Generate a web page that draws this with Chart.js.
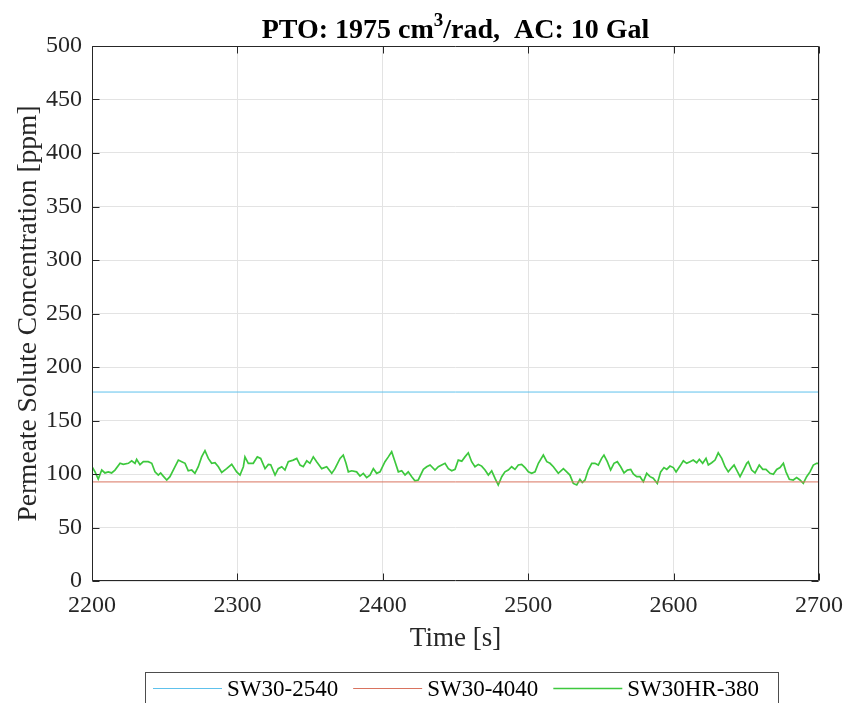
<!DOCTYPE html>
<html>
<head>
<meta charset="utf-8">
<script src="https://cdn.jsdelivr.net/npm/chart.js@4"></script>
<style>
  html, body { margin: 0; padding: 0; background: #ffffff; }
  canvas { display: block; }
</style>
</head>
<body>
<canvas id="c" width="849" height="703"></canvas>
<script>
// Axis ticks
const xTicks = [2200, 2300, 2400, 2500, 2600, 2700];
const yTicks = [0, 50, 100, 150, 200, 250, 300, 350, 400, 450, 500];

// Series labels
const seriesNames = ['SW30-2540', 'SW30-4040', 'SW30HR-380'];

// SW30-2540 and SW30-4040 hold a constant level over the window
const flatTime = [2200, 2700];
const sw2540 = [176.6, 176.6];
const sw4040 = [92.6, 92.6];

// SW30HR-380 permeate concentration [ppm] over time [s]
const hrTime = [
  2200, 2202.1, 2204.3, 2206.7, 2208.9, 2211.2, 2213.5, 2215.8, 2219.3, 2221.5,
  2225, 2227.3, 2229.6, 2230.7, 2233, 2235.3, 2238.7, 2241.1, 2243.3, 2245.6,
  2247.2, 2249, 2251.4, 2253.6, 2257.1, 2259.4, 2261.7, 2264, 2266.2, 2268.6,
  2270.8, 2273.1, 2275.4, 2277.7, 2280, 2282.3, 2284.6, 2286.9, 2289.2, 2292.6,
  2296.1, 2299.5, 2301.8, 2304.1, 2305.2, 2307.5, 2310.9, 2313.7, 2316, 2319,
  2321.3, 2322.9, 2325.9, 2328.1, 2330.5, 2332.7, 2335, 2338.4, 2340.8, 2343.1,
  2345.3, 2347.7, 2349.9, 2352.2, 2354.5, 2358, 2361.4, 2364.9, 2367.1, 2370.6,
  2372.8, 2374.7, 2376.3, 2378.6, 2382, 2384.3, 2386.6, 2388.9, 2391.2, 2393.5,
  2395.8, 2398.1, 2401.5, 2403.8, 2406.1, 2408.4, 2410.7, 2413, 2415.3, 2417.5,
  2419.9, 2422.1, 2424.4, 2427.9, 2430.2, 2432.5, 2435.9, 2438.2, 2440.5, 2442.8,
  2445.1, 2447.4, 2449.7, 2451.9, 2454.3, 2456.5, 2458.8, 2461.1, 2463.4, 2465.7,
  2468, 2470.3, 2472.6, 2474.9, 2477.2, 2479.4, 2481.8, 2484, 2486.3, 2488.6,
  2490.9, 2493.2, 2495.5, 2497.8, 2500.1, 2502.4, 2504.7, 2507, 2510.4, 2512.8,
  2515, 2517.3, 2520.7, 2524.2, 2526.5, 2528.7, 2531, 2533.4, 2535.6, 2537.2,
  2539.1, 2541.3, 2543.7, 2545.9, 2548.2, 2550.5, 2552.1, 2554.4, 2556.7, 2559,
  2561.3, 2563.6, 2565.9, 2568.2, 2570.5, 2572.3, 2574.6, 2576.9, 2579.2, 2581.5,
  2583.8, 2586, 2588.8, 2591.1, 2593.4, 2595.3, 2597.5, 2599.8, 2601.7, 2604.4,
  2606.7, 2609, 2611.3, 2613.5, 2615.9, 2617.7, 2620, 2622.3, 2623.9, 2626.2,
  2628.5, 2630.7, 2633.1, 2635.4, 2637.6, 2640, 2641.6, 2643.4, 2645.7, 2648,
  2650.3, 2651.4, 2653.7, 2656, 2658.9, 2661.3, 2663.5, 2666.3, 2668.6, 2670.9,
  2673.2, 2675.5, 2677.3, 2679.6, 2682.3, 2684.6, 2686.9, 2689.2, 2691.5, 2693.8,
  2696.1, 2698.4, 2700
];
const sw30hr380 = [
  106.8, 102, 95.3, 103.7, 101, 102, 101, 103.7, 110, 109,
  110, 112.4, 110, 113.7, 108.7, 111.5, 111.5, 110, 102, 99,
  101, 98, 94.4, 97.5, 106.8, 113, 111.5, 110, 103, 103.7,
  100.6, 106.8, 116, 121.8, 114.6, 110, 110.5, 106.8, 101.5, 105,
  109, 102, 99, 106.8, 116, 110, 110, 116, 114.6, 105,
  109, 108.7, 99, 105, 106.8, 103.7, 111.5, 113, 114.6, 108.4,
  106.8, 112.4, 110, 116, 111.5, 105, 106.8, 100.6, 105, 114.6,
  117.7, 110, 102, 103, 102, 98, 100.6, 96.6, 99, 105,
  100.6, 102, 111.5, 116, 120.8, 111.5, 102, 103, 99, 102,
  97.5, 93.7, 94.4, 104.3, 106.8, 108.4, 103.7, 106.8, 108.4, 110,
  105, 103, 104.3, 113, 112, 116, 119.8, 111.5, 106.8, 109,
  107.4, 103.7, 99, 103, 95.9, 89.7, 97.5, 102, 103.7, 106.8,
  104.3, 108.4, 109, 106, 102, 100.6, 102, 110, 117.7, 111.5,
  110, 106.8, 100.6, 105, 102, 99, 91.2, 89.7, 95, 92,
  94.4, 103.7, 110, 110, 108.4, 114.6, 117.7, 111.5, 103.7, 110,
  111.5, 106.8, 101, 103.7, 104.3, 100, 97.5, 97.5, 92.8, 100.6,
  97.5, 96, 91.2, 102, 106, 104.3, 107.4, 106, 102, 107.4,
  112.4, 110, 111.5, 113, 110.5, 113.7, 110, 114.6, 108.4, 110.5,
  113, 119.8, 114.6, 106.8, 102, 106, 108.4, 103.7, 97.5, 103.7,
  110, 111.5, 103.7, 101, 108.4, 104.3, 104.3, 100.6, 99.7, 104.3,
  106, 110, 102, 95, 94.4, 96.6, 94.4, 91.2, 97.5, 102,
  108.4, 110, 110
];

const FONT = '"Liberation Serif", "Times New Roman", serif';
const INK = '#262626';
const seriesColors = ['#5ec1ec', '#d9735f', '#3dc83d'];
const seriesWidths = [1, 1, 1.7];

const pairs = (xs, ys) => xs.map((x, i) => ({ x: x, y: ys[i] }));

// White page background
const paper = {
  id: 'paper',
  beforeDraw(chart) {
    const ctx = chart.ctx;
    ctx.save();
    ctx.fillStyle = '#ffffff';
    ctx.fillRect(0, 0, chart.width, chart.height);
    ctx.restore();
  }
};

// Box around the axes with inward tick marks on all four sides
const axesBox = {
  id: 'axesBox',
  afterDatasetsDraw(chart) {
    const { ctx, chartArea: a, scales } = chart;
    const L = Math.round(a.left) + 0.5, R = Math.round(a.right) - 0.5;
    const T = Math.round(a.top) + 0.5, B = Math.round(a.bottom) - 0.5;
    const tl = 7;
    ctx.save();
    ctx.strokeStyle = INK;
    ctx.lineWidth = 1;
    ctx.beginPath();
    ctx.rect(L, T, R - L, B - T);
    xTicks.forEach(v => {
      const px = Math.round(scales.x.getPixelForValue(v)) + 0.5;
      ctx.moveTo(px, B); ctx.lineTo(px, B - tl);
      ctx.moveTo(px, T); ctx.lineTo(px, T + tl);
    });
    yTicks.forEach(v => {
      const py = Math.round(scales.y.getPixelForValue(v)) + 0.5;
      ctx.moveTo(L, py); ctx.lineTo(L + tl, py);
      ctx.moveTo(R, py); ctx.lineTo(R - tl, py);
    });
    ctx.stroke();
    ctx.restore();
  }
};

// Title, axis titles and the boxed legend
const annotations = {
  id: 'annotations',
  afterDraw(chart) {
    const { ctx, chartArea: a } = chart;
    const cx = (a.left + a.right) / 2;
    ctx.save();
    ctx.fillStyle = '#000000';
    ctx.textBaseline = 'alphabetic';

    // Title with superscript
    const big = 'bold 28px ' + FONT, small = 'bold 19px ' + FONT;
    const parts = [
      { t: 'PTO: 1975 cm', f: big, dy: 0 },
      { t: '3', f: small, dy: -12 },
      { t: '/rad,  AC: 10 Gal', f: big, dy: 0 }
    ];
    let total = 0;
    parts.forEach(p => { ctx.font = p.f; p.w = ctx.measureText(p.t).width; total += p.w; });
    let tx = cx - total / 2;
    ctx.textAlign = 'left';
    parts.forEach(p => { ctx.font = p.f; ctx.fillText(p.t, tx, 38 + p.dy); tx += p.w; });

    // Axis titles
    ctx.fillStyle = INK;
    ctx.font = '27px ' + FONT;
    ctx.textAlign = 'center';
    ctx.fillText('Time [s]', cx, 646);
    ctx.save();
    ctx.translate(36, (a.top + a.bottom) / 2);
    ctx.rotate(-Math.PI / 2);
    ctx.font = '27.5px ' + FONT;
    ctx.fillText('Permeate Solute Concentration [ppm]', 0, 0);
    ctx.restore();

    // Legend
    ctx.strokeStyle = '#4d4d4d';
    ctx.lineWidth = 1;
    ctx.strokeRect(145.5, 672.5, 633, 40);
    ctx.font = '23px ' + FONT;
    ctx.textAlign = 'left';
    let lx = 153;
    seriesNames.forEach((name, i) => {
      ctx.strokeStyle = seriesColors[i];
      ctx.lineWidth = seriesWidths[i];
      ctx.beginPath();
      ctx.moveTo(lx, 688.5);
      ctx.lineTo(lx + 69, 688.5);
      ctx.stroke();
      ctx.fillStyle = '#000000';
      ctx.fillText(name, lx + 74, 696);
      lx += 74 + ctx.measureText(name).width + 15;
    });
    ctx.restore();
  }
};

new Chart(document.getElementById('c'), {
  type: 'line',
  data: {
    datasets: [
      { label: seriesNames[0], data: pairs(flatTime, sw2540) },
      { label: seriesNames[1], data: pairs(flatTime, sw4040) },
      { label: seriesNames[2], data: pairs(hrTime, sw30hr380) }
    ].map((d, i) => Object.assign(d, {
      borderColor: seriesColors[i],
      borderWidth: seriesWidths[i],
      pointRadius: 0,
      tension: 0,
      fill: false
    }))
  },
  options: {
    responsive: false,
    animation: false,
    devicePixelRatio: 1,
    layout: { padding: { left: 0, top: 46, right: 30, bottom: 0 } },
    plugins: {
      legend: { display: false },
      title: { display: false },
      tooltip: { enabled: false }
    },
    scales: {
      x: {
        type: 'linear',
        min: 2200,
        max: 2700,
        afterBuildTicks(s) { s.ticks = xTicks.map(v => ({ value: v })); },
        afterFit(s) { s.height = 122; s.paddingLeft = 0; s.paddingRight = 0; },
        grid: { color: '#e3e3e3', lineWidth: 1, drawTicks: false },
        border: { display: false },
        ticks: {
          color: INK, padding: 10, maxRotation: 0,
          font: { family: FONT, size: 24 },
          callback: v => String(v)
        }
      },
      y: {
        type: 'linear',
        min: 0,
        max: 500,
        afterBuildTicks(s) { s.ticks = yTicks.map(v => ({ value: v })); },
        afterFit(s) { s.width = 92; s.paddingTop = 0; s.paddingBottom = 0; },
        grid: { color: '#e3e3e3', lineWidth: 1, drawTicks: false },
        border: { display: false },
        ticks: {
          color: INK, padding: 10,
          font: { family: FONT, size: 24 },
          callback: v => String(v)
        }
      }
    }
  },
  plugins: [paper, axesBox, annotations]
});
</script>
</body>
</html>
